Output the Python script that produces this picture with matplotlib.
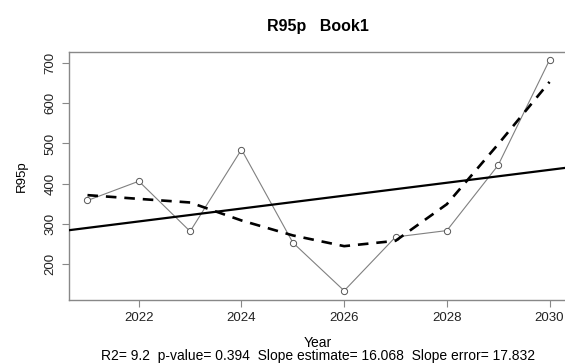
import numpy as np
import matplotlib.pyplot as plt

plt.rcParams['font.family'] = ['Liberation Sans', 'DejaVu Sans']

# R95p index per year
years = [2021, 2022, 2023, 2024, 2025, 2026, 2027, 2028, 2029, 2030]
r95p = [358, 406, 281, 485, 253, 133, 267, 283, 446, 708]

r2 = 9.2
p_value = 0.394
slope = 16.068
slope_err = 17.832

x = np.array(years, dtype=float)
y = np.array(r95p, dtype=float)


def lowess(x, y, f=2 / 3, iters=3):
    # locally weighted linear smoother with robustness iterations (like R lowess)
    n = len(x)
    q = max(min(int(f * n + 1e-7), n), 2)
    rw = np.ones(n)
    for it in range(iters + 1):
        fit = np.zeros(n)
        for i, x0 in enumerate(x):
            d = np.abs(x - x0)
            h = np.sort(d)[q - 1]
            w = np.clip(1 - (d / h) ** 3, 0, None) ** 3 * rw
            X = np.vstack([np.ones(n), x - x0]).T
            b = np.linalg.lstsq(X * np.sqrt(w)[:, None], y * np.sqrt(w), rcond=None)[0]
            fit[i] = b[0]
        res = y - fit
        s = np.median(np.abs(res))
        rw = np.clip(1 - (res / (6 * s)) ** 2, 0, None) ** 2
    return fit


fig = plt.figure(figsize=(5.65, 3.63), dpi=100)
ax = fig.add_axes([69 / 565, 1 - 300 / 363, (568 - 69) / 565, (300 - 52) / 363])

# observed series
ax.plot(x, y, color='#808080', lw=0.8, marker='o', ms=4.5, mfc='white',
        mec='#555555', mew=0.7, zorder=2)

# linear trend with the reported slope
xl = np.array([2020.0, 2032.0])
ax.plot(xl, y.mean() + slope * (xl - x.mean()), color='black', lw=1.6, zorder=3)

# lowess smooth
ax.plot(x, lowess(x, y), color='black', lw=1.9, ls=(0, (4, 3)), zorder=3)

ax.set_xlim(2020.64, 2030.36)
ax.set_ylim(110, 728)
ax.set_xticks([2022, 2024, 2026, 2028, 2030])
ax.set_yticks([200, 300, 400, 500, 600, 700])
ax.set_yticklabels(['200', '300', '400', '500', '600', '700'], rotation=90, va='center')

for s in ['left', 'top', 'bottom']:
    ax.spines[s].set_color('#888888')
    ax.spines[s].set_linewidth(1.0)
ax.spines['right'].set_visible(False)
ax.tick_params(colors='#888888', labelcolor='#222222', labelsize=9.5, length=5, width=0.8)
ax.tick_params(axis='y', pad=4)

ax.set_ylabel('R95p', fontsize=9.5, labelpad=12)
fig.text(318 / 565, 1 - 27 / 363, 'R95p   Book1', ha='center', va='center',
         fontsize=11.5, fontweight='bold')
fig.text(318 / 565, 1 - 347 / 363, 'Year', ha='center', va='baseline', fontsize=10)
fig.text(318 / 565, 1 - 360 / 363,
         'R2= %.1f  p-value= %.3f  Slope estimate= %.3f  Slope error= %.3f'
         % (r2, p_value, slope, slope_err),
         ha='center', va='baseline', fontsize=10)

fig.savefig('out.png', dpi=100)
